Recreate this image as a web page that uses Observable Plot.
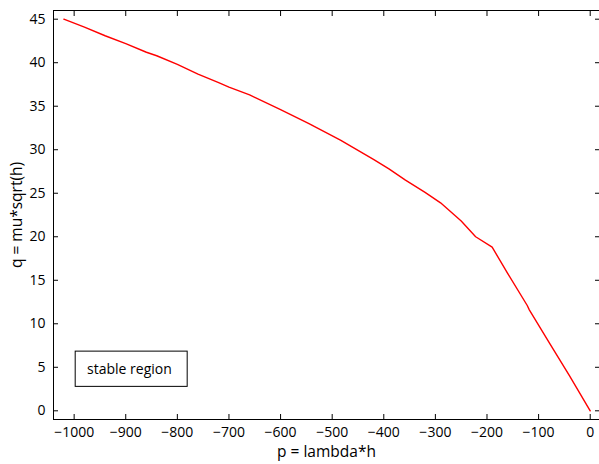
<!DOCTYPE html>
<html>
<head>
<meta charset="utf-8">
<script src="https://cdn.jsdelivr.net/npm/d3@7"></script>
<script src="https://cdn.jsdelivr.net/npm/@observablehq/plot@0.6"></script>
<style>
  html, body { margin: 0; padding: 0; background: #fff; overflow: hidden; }
  svg { display: block; }
  g[aria-label="x-axis label"] text, g[aria-label="y-axis label"] text { font-size: 15.5px; }
</style>
</head>
<body>
<div id="chart"></div>
<script>
// curve values
const pValues = [-1020, -980, -940, -900, -860, -840, -800, -760, -720, -700, -660, -600, -545, -484, -420, -390, -358, -320, -290, -250, -222, -190, -160, -122, -118, -78, -40, 0];
const qValues = [45.0, 44.1, 43.1, 42.2, 41.2, 40.8, 39.8, 38.7, 37.7, 37.2, 36.3, 34.6, 33.0, 31.1, 28.9, 27.8, 26.5, 25.1, 23.9, 21.8, 20.0, 18.8, 15.8, 12.1, 11.6, 7.7, 4.0, 0];

const xTicks = [-1000, -900, -800, -700, -600, -500, -400, -300, -200, -100, 0];
const yTicks = [0, 5, 10, 15, 20, 25, 30, 35, 40, 45];

// annotation box ("stable region") in data units
const noteText = ["stable region"];
const noteX = [-975];
const noteY = [4.8];
const noteBoxX = [-997, -780];
const noteBoxY = [2.75, 6.8];

const curve = pValues.map((p, i) => ({p, q: qValues[i]}));
const note = noteText.map((t, i) => ({t, x: noteX[i], y: noteY[i]}));
const noteBox = [{x1: noteBoxX[0], x2: noteBoxX[1], y1: noteBoxY[0], y2: noteBoxY[1]}];

const fmt = d => String(d).replace("-", "\u2212");

const chart = Plot.plot({
  width: 599,
  height: 464,
  marginLeft: 53,
  marginRight: 0,
  marginTop: 10,
  marginBottom: 45,
  style: {fontFamily: "'Open Sans', sans-serif", fontSize: "14px", color: "black", background: "white"},
  x: {domain: [-1040, 18]},
  y: {domain: [-1, 46]},
  marks: [
    Plot.rect(noteBox, {x1: "x1", x2: "x2", y1: "y1", y2: "y2", fill: "white", stroke: "black", strokeWidth: 1}),
    Plot.text(note, {x: "x", y: "y", text: "t", textAnchor: "start", fill: "black", fontSize: 14}),
    Plot.line(curve, {x: "p", y: "q", stroke: "#ff0000", strokeWidth: 1.4}),
    Plot.frame({stroke: "black", strokeWidth: 1}),
    Plot.axisX(xTicks, {anchor: "bottom", tickSize: -5, tickPadding: 13, tickFormat: fmt, stroke: "black", fill: "black",
      fontSize: 14, label: "p = lambda*h", labelAnchor: "center", labelArrow: "none", labelOffset: 37}),
    Plot.axisX(xTicks, {anchor: "top", tickSize: -5, text: null, label: null, stroke: "black"}),
    Plot.axisY(yTicks, {anchor: "left", tickSize: -5, tickPadding: 13, tickFormat: fmt, stroke: "black", fill: "black",
      fontSize: 14, label: "q = mu*sqrt(h)", labelAnchor: "center", labelArrow: "none", labelOffset: 43}),
    Plot.axisY(yTicks, {anchor: "right", tickSize: -5, text: null, label: null, stroke: "black"})
  ]
});
document.getElementById("chart").appendChild(chart);
</script>
</body>
</html>
